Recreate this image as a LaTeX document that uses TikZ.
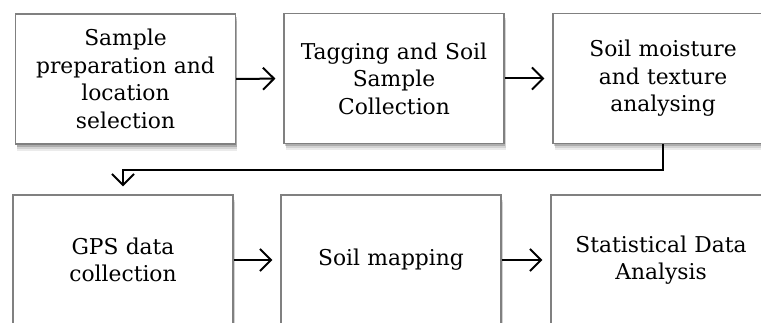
\documentclass[tikz,border=0pt]{standalone}
\usepackage{fontspec}
\setmainfont{DejaVu Serif}
\usetikzlibrary{arrows.meta,shadows}
\begin{document}
\begin{tikzpicture}[x=1pt,y=-1pt,
  softshadow/.style={preaction={fill=black, opacity=#1, transform canvas={xshift=1pt,yshift=-3pt}}},
  stepbox/.style={draw=black!50, line width=1.2pt, fill=white,
    minimum width=220pt, minimum height=130pt, inner sep=0pt,
    text width=215pt, align=center,
    font=\fontsize{21.8}{27.5}\selectfont,
    preaction={fill=black, opacity=0.08, transform canvas={xshift=1.5pt,yshift=-7pt}},
    preaction={fill=black, opacity=0.10, transform canvas={xshift=1.5pt,yshift=-5pt}},
    preaction={fill=black, opacity=0.18, transform canvas={xshift=1pt,yshift=-3pt}}},
  flow/.style={line width=2pt, -{Straight Barb[length=11pt,width=22pt,line width=2pt]}, shorten >=8pt}]
  \useasboundingbox (0,0) rectangle (761,323);
  \node[stepbox] (s1) at (125.5,79) {Sample\\preparation and\\location\\selection};
  \node[stepbox] (s2) at (394,78.5) {Tagging and Soil\\Sample\\Collection};
  \node[stepbox] (s3) at (663,78.5) {Soil moisture\\and texture\\analysing};
  \node[stepbox] (s4) at (123,260) {GPS data\\collection};
  \node[stepbox] (s5) at (391,260) {Soil mapping};
  \node[stepbox] (s6) at (661,260) {Statistical Data\\Analysis};
  \coordinate (bend) at (0,170);
  \draw[flow] (s1.east) -- (s2.west);
  \draw[flow] (s2.east) -- (s3.west);
  \draw[flow] (s3.south) |- (bend -| s4.north) -- (s4.north);
  \draw[flow] (s4.east) -- (s5.west);
  \draw[flow] (s5.east) -- (s6.west);
\end{tikzpicture}
\end{document}
